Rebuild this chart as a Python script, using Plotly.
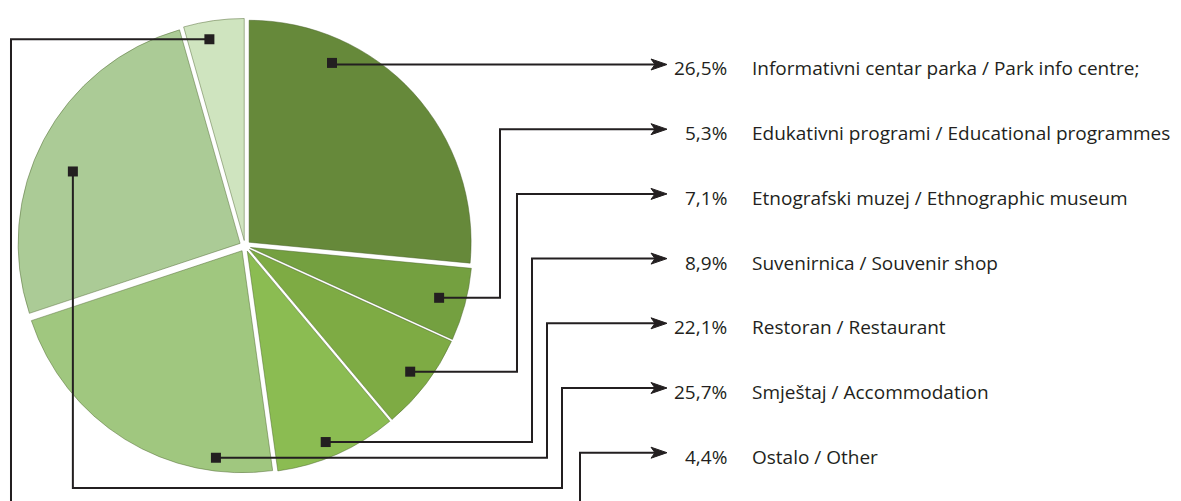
import math
import plotly.graph_objects as go

# figure size (px)
W, H = 1181, 501

# ---- data ----
categories = [
    "Informativni centar parka / Park info centre;",
    "Edukativni programi / Educational programmes",
    "Etnografski muzej / Ethnographic museum",
    "Suvenirnica / Souvenir shop",
    "Restoran / Restaurant",
    "Smještaj / Accommodation",
    "Ostalo / Other",
]
shares = [26.5, 5.3, 7.1, 8.9, 22.1, 25.7, 4.4]

# ---- styling / geometry ----
colors = ["#66893a", "#74a040", "#7eab44", "#8bbc52", "#a0c77f", "#abcb96", "#cfe4bf"]
INK = "#231f20"
FONT = "Open Sans"
FSIZE = 19

CX, CY, R = 245, 246, 222       # pie centre and radius in px
PULL = 0.025

ROW0, ROW_STEP = 64.5, 64.7      # label rows
ARROW_TIP = 667
PCT_X, LABEL_X = 729, 750

# where the little square sits inside each slice (fraction of span, fraction of radius)
MARK_FRAC = [0.26, 0.5, 0.5, 0.55, 0.19, 0.45, 0.38]
MARK_RAD = [0.89, 0.88, 0.91, 0.93, 0.94, 0.82, 0.92]
ELBOW_X = [None, 500, 517, 532, 547, 562, 580]
BOTTOM_Y = {5: 488, 6: H + 12}
LEFT_X = {6: 11}


def px(x):
    return x / W


def py(y):
    return 1 - y / H


fig = go.Figure()

full = R * (1 + PULL)
fig.add_trace(go.Pie(
    values=shares,
    labels=categories,
    sort=False,
    direction="clockwise",
    rotation=0,
    pull=PULL,
    marker=dict(colors=colors, line=dict(color="rgba(70,95,40,0.45)", width=1)),
    textinfo="none",
    hoverinfo="label+percent",
    showlegend=False,
    domain=dict(x=[px(CX - full), px(CX + full)], y=[py(CY + full), py(CY - full)]),
))

shapes = []
annotations = []
total = sum(shares)
start = 0.0
for i, v in enumerate(shares):
    span = v / total * 360
    mid = math.radians(start + span / 2)
    th = math.radians(start + span * MARK_FRAC[i])
    off = PULL * R
    rr = MARK_RAD[i] * R
    mx = CX + off * math.sin(mid) + rr * math.sin(th)
    my = CY - off * math.cos(mid) - rr * math.cos(th)
    start += span

    row = ROW0 + i * ROW_STEP
    pts = [(mx, my)]
    if i in LEFT_X:
        pts.append((LEFT_X[i], my))
        pts.append((LEFT_X[i], BOTTOM_Y[i]))
        pts.append((ELBOW_X[i], BOTTOM_Y[i]))
    elif i in BOTTOM_Y:
        pts.append((mx, BOTTOM_Y[i]))
        pts.append((ELBOW_X[i], BOTTOM_Y[i]))
    elif ELBOW_X[i] is not None:
        pts.append((ELBOW_X[i], my))
    else:
        pts.append((mx, row))
    if ELBOW_X[i] is not None:
        pts.append((ELBOW_X[i], row))
    pts.append((ARROW_TIP - 12, row))

    path = "M " + " L ".join(f"{px(x):.5f},{py(y):.5f}" for x, y in pts)
    shapes.append(dict(type="path", path=path, xref="paper", yref="paper",
                       line=dict(color=INK, width=2), layer="above"))

    # arrow head
    head = [(ARROW_TIP, row), (ARROW_TIP - 16, row - 5.5), (ARROW_TIP - 12, row),
            (ARROW_TIP - 16, row + 5.5)]
    hp = "M " + " L ".join(f"{px(x):.5f},{py(y):.5f}" for x, y in head) + " Z"
    shapes.append(dict(type="path", path=hp, xref="paper", yref="paper",
                       fillcolor=INK, line=dict(color=INK, width=1), layer="above"))

    # square marker in slice
    shapes.append(dict(type="rect", xref="paper", yref="paper",
                       x0=px(mx - 5), x1=px(mx + 5), y0=py(my + 5), y1=py(my - 5),
                       fillcolor=INK, line=dict(width=0), layer="above"))

    pct = f"{v:.1f}".replace(".", ",") + "%"
    annotations.append(dict(x=px(PCT_X), y=py(row + 4), xref="paper", yref="paper",
                            text=pct, showarrow=False, xanchor="right", yanchor="middle",
                            font=dict(family=FONT, size=FSIZE, color=INK)))
    annotations.append(dict(x=px(LABEL_X), y=py(row + 4), xref="paper", yref="paper",
                            text=categories[i], showarrow=False, xanchor="left",
                            yanchor="middle",
                            font=dict(family=FONT, size=FSIZE, color=INK)))

fig.update_layout(
    width=W, height=H,
    margin=dict(l=0, r=0, t=0, b=0),
    paper_bgcolor="white",
    plot_bgcolor="white",
    shapes=shapes,
    annotations=annotations,
)

# page body has an 8px default margin; drop it so the chart sits flush
fig.write_html("out.html", config={"displayModeBar": False},
               post_script="document.body.style.margin='0';")
